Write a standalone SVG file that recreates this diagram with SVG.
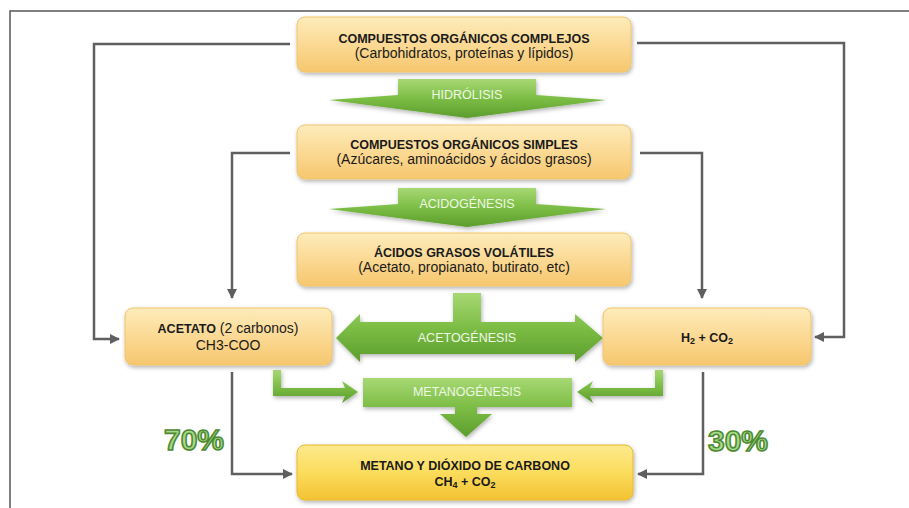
<svg xmlns="http://www.w3.org/2000/svg" width="909" height="508" viewBox="0 0 909 508">
<defs>
<linearGradient id="gBox" x1="0" y1="0" x2="0" y2="1">
<stop offset="0" stop-color="#fdecbb"/>
<stop offset="0.5" stop-color="#fbd994"/>
<stop offset="1" stop-color="#f6c76e"/>
</linearGradient>
<linearGradient id="gFinal" x1="0" y1="0" x2="0" y2="1">
<stop offset="0" stop-color="#fdea8e"/>
<stop offset="0.5" stop-color="#fbdc5c"/>
<stop offset="1" stop-color="#f3c232"/>
</linearGradient>
<linearGradient id="gGreen" x1="0" y1="0" x2="0" y2="1">
<stop offset="0" stop-color="#a8d874"/>
<stop offset="0.5" stop-color="#7cbd45"/>
<stop offset="1" stop-color="#5c9d2d"/>
</linearGradient>
<filter id="sh" x="-10%" y="-20%" width="120%" height="150%">
<feDropShadow dx="1" dy="2" stdDeviation="2" flood-color="#000" flood-opacity="0.3"/>
</filter>
<marker id="ah" viewBox="0 0 10 10" refX="9" refY="5" markerWidth="4" markerHeight="4" orient="auto" markerUnits="strokeWidth">
<path d="M0,0 L10,5 L0,10 z" fill="#5f5f5f"/>
</marker>
<style>
.box{fill:url(#gBox);stroke:#f0c46c;stroke-width:1;filter:url(#sh)}
.final{fill:url(#gFinal);stroke:#e8b92e;stroke-width:1;filter:url(#sh)}
.garrow{fill:url(#gGreen);filter:url(#sh)}
.t{font-family:"Liberation Sans",Arial,sans-serif;fill:#1a1a1a;text-anchor:middle}
.b{font-weight:bold;font-size:12.5px}
.r{font-size:14px}
.gl{font-family:"Liberation Sans",Arial,sans-serif;font-size:12.5px;fill:#eef8e4;text-anchor:middle}
.conn{fill:none;stroke:#5f5f5f;stroke-width:2.5}
.pct{font-family:"Liberation Sans",Arial,sans-serif;font-weight:bold;font-size:30px;fill:#a6d988;stroke:#4d8a32;stroke-width:1.6;text-anchor:middle}
</style>
</defs>
<rect x="0" y="0" width="909" height="508" fill="#ffffff"/>
<path d="M10,508 V11 H909" fill="none" stroke="#555" stroke-width="1.5"/>

<g id="connectors">
<path class="conn" d="M290,44 H94 V339 H119" marker-end="url(#ah)"/>
<path class="conn" d="M637,43 H844 V337 H815" marker-end="url(#ah)"/>
<path class="conn" d="M290,153 H232 V298" marker-end="url(#ah)"/>
<path class="conn" d="M640,153 H702 V298" marker-end="url(#ah)"/>
<path class="conn" d="M232,372 V474 H292" marker-end="url(#ah)"/>
<path class="conn" d="M703,372 V474 H638" marker-end="url(#ah)"/>
</g>

<g id="hidrolisis">
<polygon class="garrow" points="398,79 536,79 536,95 606,100 467,118 329,100 398,95"/>
<text class="gl" x="467" y="99">HIDRÓLISIS</text>
</g>
<g id="acidogenesis">
<polygon class="garrow" points="398,188 536,188 536,204 606,209 467,227 329,209 398,204"/>
<text class="gl" x="467" y="208">ACIDOGÉNESIS</text>
</g>
<g id="acetogenesis">
<polygon class="garrow" points="453,293 481,293 481,322 575,322 575,314 603,338 575,362 575,354 360,354 360,362 336,338 360,314 360,322 453,322"/>
<text class="gl" x="467" y="342">ACETOGÉNESIS</text>
</g>
<g id="metanogenesis">
<polygon class="garrow" points="363,378 572,378 572,407 477,407 477,414 492,414 466,437 440,414 455,414 455,407 363,407"/>
<text class="gl" x="467" y="396">METANOGÉNESIS</text>
</g>
<g id="green-l-left">
<polygon class="garrow" points="273,370 281,370 281,388 345,388 342,381 358,392 342,403 345,396 273,396"/>
</g>
<g id="green-l-right">
<polygon class="garrow" points="655,370 663,370 663,396 590,396 593,403 577,392 593,381 590,388 655,388"/>
</g>

<g id="complejos">
<rect class="box" x="297" y="17" width="334" height="55" rx="8"/>
<text class="t b" x="464" y="43">COMPUESTOS ORGÁNICOS COMPLEJOS</text>
<text class="t r" x="464" y="58">(Carbohidratos, proteínas y lípidos)</text>
</g>
<g id="simples">
<rect class="box" x="297" y="125" width="334" height="54" rx="8"/>
<text class="t b" x="464" y="149">COMPUESTOS ORGÁNICOS SIMPLES</text>
<text class="t r" x="464" y="164">(Azúcares, aminoácidos y ácidos grasos)</text>
</g>
<g id="volatiles">
<rect class="box" x="297" y="233" width="334" height="53" rx="8"/>
<text class="t b" x="464" y="257">ÁCIDOS GRASOS VOLÁTILES</text>
<text class="t r" x="464" y="272">(Acetato, propianato, butirato, etc)</text>
</g>
<g id="acetato">
<rect class="box" x="125" y="308" width="207" height="57" rx="8"/>
<text class="t r" x="228" y="333"><tspan font-weight="bold" font-size="12.5">ACETATO</tspan> (2 carbonos)</text>
<text class="t r" x="228" y="350">CH3-COO</text>
</g>
<g id="h2co2">
<rect class="box" x="603" y="308" width="208" height="57" rx="8"/>
<text class="t b" x="707" y="342">H<tspan font-size="9" dy="2">2</tspan><tspan dy="-2"> + CO</tspan><tspan font-size="9" dy="2">2</tspan></text>
</g>
<g id="metano">
<rect class="final" x="297" y="445" width="336" height="55" rx="8"/>
<text class="t b" x="465" y="470" font-size="13">METANO Y DIÓXIDO DE CARBONO</text>
<text class="t b" x="465" y="486">CH<tspan font-size="9" dy="2">4</tspan><tspan dy="-2"> + CO</tspan><tspan font-size="9" dy="2">2</tspan></text>
</g>
<text class="pct" x="194" y="450">70%</text>
<text class="pct" x="738" y="451">30%</text>
</svg>
